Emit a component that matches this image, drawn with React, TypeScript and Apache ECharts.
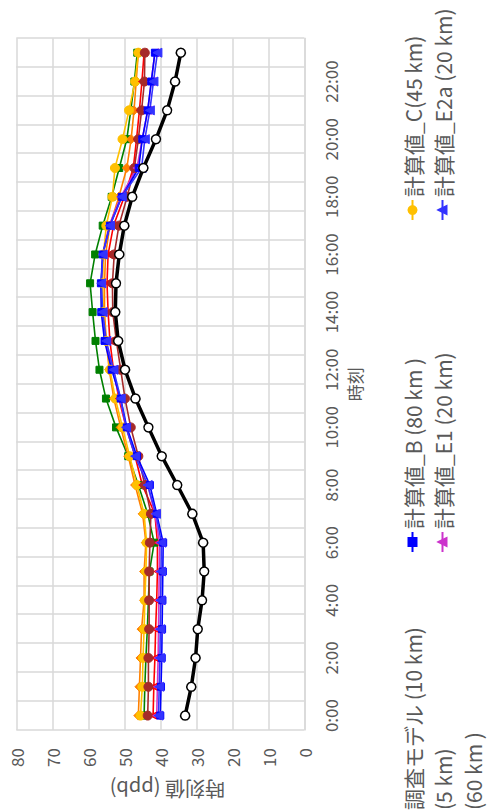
import React, { useEffect, useRef } from "react";
import * as echarts from "echarts";

const hourLabels = ["0:00","1:00","2:00","3:00","4:00","5:00","6:00","7:00","8:00","9:00","10:00","11:00","12:00","13:00","14:00","15:00","16:00","17:00","18:00","19:00","20:00","21:00","22:00","23:00"];

const observed = [33.1,31.4,30.2,29.6,28.4,27.8,28.1,31.1,35.3,39.6,43.3,46.9,49.8,51.7,52.5,52.3,51.4,50.0,47.8,44.7,41.2,38.1,35.9,34.3];
const modelA = [44.5,44.3,44.0,43.6,43.3,43.0,41.7,43.5,46.1,48.9,52.3,55.1,56.9,58.0,58.8,59.5,58.1,56.0,53.5,51.4,49.3,48.2,47.2,46.4];
const modelB = [40.0,39.8,39.6,39.5,39.4,39.3,39.2,41.0,42.9,46.5,49.3,51.0,53.5,55.5,56.4,56.5,56.0,54.0,50.7,46.0,45.0,43.5,42.5,41.5];
const modelC = [45.5,45.0,44.8,44.5,44.3,44.0,43.8,44.5,46.5,48.5,50.5,52.5,54.0,55.0,55.8,56.0,55.8,55.0,53.3,52.6,50.5,48.7,47.0,46.1];
const modelD = [46.1,45.8,45.5,45.2,44.5,44.5,44.0,44.9,47.0,48.9,51.0,52.9,54.2,55.0,55.5,55.5,55.2,54.0,51.5,49.3,48.1,47.3,46.7,46.1];
const modelE1 = [41.0,40.8,40.6,40.5,40.4,40.3,40.2,41.5,43.5,46.8,49.5,51.2,53.3,55.2,56.2,56.4,56.0,54.2,51.0,46.5,45.0,43.5,42.5,41.5];
const modelE2a = [40.5,40.3,40.1,40.0,39.9,39.8,39.7,41.2,43.5,47.0,49.5,51.0,53.0,55.0,56.0,56.4,56.0,54.0,50.7,45.2,44.3,42.9,41.9,40.8];
const modelF = [42.0,41.8,41.5,41.3,41.0,40.8,40.8,41.5,45.0,47.0,49.5,51.5,53.0,54.0,54.5,54.8,54.5,53.0,50.0,47.5,46.6,45.8,45.1,44.5];
const modelG = [43.5,43.3,43.3,43.1,43.1,43.1,42.9,42.6,44.3,46.1,48.2,49.8,51.0,52.2,53.2,53.3,52.8,51.5,49.2,47.2,46.1,45.2,44.4,44.3];

const valueTicks = { min: 0, max: 80, interval: 10 };

const NAME_OBS = "測定値";
const NAME_A = "調査モデル (10 km)";
const NAME_B = "計算値_B (80 km )";
const NAME_C = "計算値_C(45 km)";
const NAME_D = "(5 km)";
const NAME_E1 = "計算値_E1 (20 km)";
const NAME_E2a = "計算値_E2a (20 km)";
const NAME_F = "(60 km )";
const NAME_G = "計算値_G";

const FONT = "'Liberation Sans Narrow', 'Noto Sans CJK JP', sans-serif";
const CJK = "'Noto Sans CJK JP', sans-serif";

export default function App() {
  const ref = useRef<HTMLDivElement>(null);
  useEffect(() => {
    document.body.style.margin = "0";
    const chart = echarts.init(ref.current!, null, { renderer: "svg" });
    const mk = (name: string, data: number[], color: string, symbol: string, size: number, width: number) => ({
      name, type: "line", data, color, symbol, symbolSize: size,
      lineStyle: { color, width }, itemStyle: { color, borderColor: color, borderWidth: 1 },
      z: 2,
    });
    const legendItem = (name: string, left: number, top: number) => ({
      data: [name], left, top, padding: 0, orient: "horizontal", itemWidth: 20, itemHeight: 10, itemGap: 0,
      textStyle: { fontFamily: CJK, fontSize: 21, color: "#595959", padding: [0, 0, 0, -2] },
      selectedMode: false,
    });
    chart.setOption({
      animation: false,
      backgroundColor: "#ffffff",
      grid: { left: 170, right: 38.3, top: 16.3, bottom: 186.7, containLabel: false },
      xAxis: {
        type: "category", data: hourLabels, boundaryGap: true,
        name: "時刻", nameLocation: "middle", nameGap: 42,
        nameTextStyle: { fontFamily: CJK, fontSize: 17, color: "#595959" },
        axisLine: { show: true, lineStyle: { color: "#d9d9d9", width: 1.5 } },
        axisTick: { show: false },
        axisLabel: { interval: 1, margin: 18, fontFamily: FONT, fontSize: 17, color: "#595959" },
        splitLine: { show: true, interval: 0, lineStyle: { color: "#d9d9d9", width: 1.5 } },
      },
      yAxis: {
        type: "value", ...valueTicks,
        name: "時刻値 (ppb)", nameLocation: "middle", nameGap: 50,
        nameTextStyle: { fontFamily: CJK, fontSize: 20, color: "#595959", padding: [0, 14, 0, 0] },
        axisLine: { show: false }, axisTick: { show: false },
        axisLabel: { margin: 18, fontFamily: FONT, fontSize: 17, color: "#595959" },
        splitLine: { lineStyle: { color: "#d9d9d9", width: 1.5 } },
      },
      legend: [
        legendItem(NAME_A, 66, 402),
        legendItem(NAME_B, 347, 402),
        legendItem(NAME_C, 679, 402),
        legendItem(NAME_D, 66, 432),
        legendItem(NAME_E1, 347, 432),
        legendItem(NAME_E2a, 679, 432),
        legendItem(NAME_F, 66, 462),
      ],
      series: [
        mk(NAME_A, modelA, "#008000", "rect", 7, 1.6),
        mk(NAME_D, modelD, "#ff8000", "diamond", 9, 1.6),
        mk(NAME_C, modelC, "#ffc000", "circle", 9, 1.6),
        mk(NAME_F, modelF, "#ff0000", "triangle", 7, 1.6),
        mk(NAME_G, modelG, "#a52a2a", "circle", 9, 1.6),
        mk(NAME_E1, modelE1, "#cc33cc", "triangle", 8, 1.6),
        mk(NAME_B, modelB, "#0000ff", "rect", 7, 1.6),
        mk(NAME_E2a, modelE2a, "#3333ff", "triangle", 9, 1.6),
        {
          name: NAME_OBS, type: "line", data: observed, color: "#000000",
          symbol: "circle", symbolSize: 9,
          lineStyle: { color: "#000000", width: 3.5 },
          itemStyle: { color: "#ffffff", borderColor: "#000000", borderWidth: 1.5 },
          z: 3,
        },
      ],
    });
    return () => chart.dispose();
  }, []);
  return (
    <div style={{ position: "fixed", left: 0, top: 0, width: 491, height: 810, overflow: "hidden", background: "#fff" }}>
      <div
        ref={ref}
        style={{
          position: "absolute", left: 0, top: 0, width: 900, height: 491,
          transformOrigin: "0 0", transform: "translate(0px, 900px) rotate(-90deg)",
        }}
      />
    </div>
  );
}
